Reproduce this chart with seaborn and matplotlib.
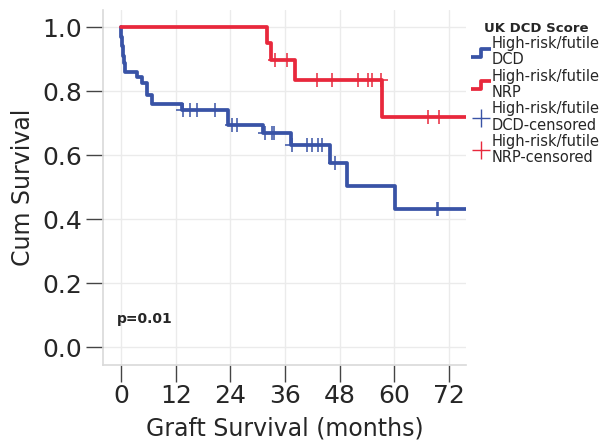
import numpy as np
import pandas as pd
import matplotlib
matplotlib.use('Agg')
import matplotlib.pyplot as plt
from matplotlib.lines import Line2D
from matplotlib.path import Path
import seaborn as sns

# Kaplan-Meier steps (months, cumulative survival)
dcd_time = [0, 0.1, 0.25, 0.4, 0.6, 0.8, 3.5, 4.6, 5.7, 6.8, 13.4, 23.5, 31.2, 37.3, 45.9, 49.6, 60.1, 75.7]
dcd_surv = [1.0, 0.97, 0.94, 0.91, 0.887, 0.86, 0.844, 0.825, 0.787, 0.76, 0.74, 0.694, 0.669, 0.631, 0.575, 0.503, 0.431, 0.431]
nrp_time = [0, 32.0, 32.9, 38.2, 57.3, 75.7]
nrp_surv = [1.0, 0.95, 0.897, 0.836, 0.719, 0.719]

# censored observations (months)
dcd_cens = [13.6, 15.1, 16.7, 20.6, 24.4, 25.5, 31.6, 33.1, 33.6, 37.5, 40.8, 41.9, 43.2, 44.1, 47.0, 69.4, 69.6]
nrp_cens = [33.8, 36.4, 43.0, 46.3, 52.0, 54.2, 55.1, 57.1, 67.4, 69.8]

x_ticks = [0, 12, 24, 36, 48, 60, 72]
y_ticks = [0.0, 0.2, 0.4, 0.6, 0.8, 1.0]

blue = '#3953a6'
red = '#e8283c'


def surv_at(times, surv, t):
    idx = np.searchsorted(times, t, side='right') - 1
    return np.array(surv)[idx]


sns.set_style('white')
plt.rcParams['font.family'] = ['DejaVu Sans']

fig = plt.figure(figsize=(5.99, 4.44), dpi=100)
ax = fig.add_axes([0.172, 0.178, 0.606, 0.799])

ax.grid(True, color='#ebebeb', linewidth=1)
ax.set_axisbelow(True)

dcd = pd.DataFrame({'t': dcd_time, 's': dcd_surv})
nrp = pd.DataFrame({'t': nrp_time, 's': nrp_surv})
sns.lineplot(data=dcd, x='t', y='s', ax=ax, color=blue, linewidth=2.7,
             drawstyle='steps-post', estimator=None, sort=False)
sns.lineplot(data=nrp, x='t', y='s', ax=ax, color=red, linewidth=2.7,
             drawstyle='steps-post', estimator=None, sort=False)

dc = pd.DataFrame({'t': dcd_cens, 's': surv_at(dcd_time, dcd_surv, dcd_cens)})
nc = pd.DataFrame({'t': nrp_cens, 's': surv_at(nrp_time, nrp_surv, nrp_cens)})
sns.scatterplot(data=dc, x='t', y='s', ax=ax, marker='+', s=110, color=blue, linewidth=1.1, zorder=4)
sns.scatterplot(data=nc, x='t', y='s', ax=ax, marker='+', s=110, color=red, linewidth=1.1, zorder=4)

ax.set_xlim(-3.95, 75.7)
ax.set_ylim(-0.056, 1.053)
ax.set_xticks(x_ticks)
ax.set_yticks(y_ticks)
ax.set_yticklabels([f'{v:.1f}' for v in y_ticks])
ax.tick_params(axis='both', labelsize=18, direction='out', length=12, width=1,
               color='#444444', pad=3, bottom=True, left=True)
ax.tick_params(axis='x', pad=2)
for side in ['top', 'right']:
    ax.spines[side].set_visible(False)
for side in ['left', 'bottom']:
    ax.spines[side].set_color('#d9d9d9')
    ax.spines[side].set_linewidth(1.2)

ax.set_xlabel('Graft Survival (months)', fontsize=17, labelpad=6)
ax.set_ylabel('Cum Survival', fontsize=17, labelpad=5)

ax.text(-0.9, 0.0875, 'p=0.01', fontsize=10, fontweight='bold', va='center', ha='left')

# step-shaped legend icons
step = Path([(-1, -0.4), (0, -0.4), (0, 0.4), (1, 0.4)])
handles = [
    Line2D([], [], linestyle='none', marker=step, markersize=14, markeredgewidth=2.7,
           markerfacecolor='none', markeredgecolor=blue),
    Line2D([], [], linestyle='none', marker=step, markersize=14, markeredgewidth=2.7,
           markerfacecolor='none', markeredgecolor=red),
    Line2D([], [], linestyle='none', marker='+', markersize=13, markeredgewidth=1, color=blue),
    Line2D([], [], linestyle='none', marker='+', markersize=13, markeredgewidth=1, color=red),
]
labels = ['High-risk/futile\nDCD', 'High-risk/futile\nNRP',
          'High-risk/futile\nDCD-censored', 'High-risk/futile\nNRP-censored']
leg = fig.legend(handles, labels, title='UK DCD Score', loc='upper left',
                 bbox_to_anchor=(0.784, 0.958), frameon=False, fontsize=10.5,
                 title_fontproperties={'weight': 'bold', 'size': 9.5},
                 handlelength=1.1, handletextpad=0.2, labelspacing=0.1,
                 borderaxespad=0, borderpad=0.2)
leg._legend_box.align = 'center'
for t in leg.get_texts():
    t.set_linespacing(1.1)

fig.savefig('out.png', dpi=100)
